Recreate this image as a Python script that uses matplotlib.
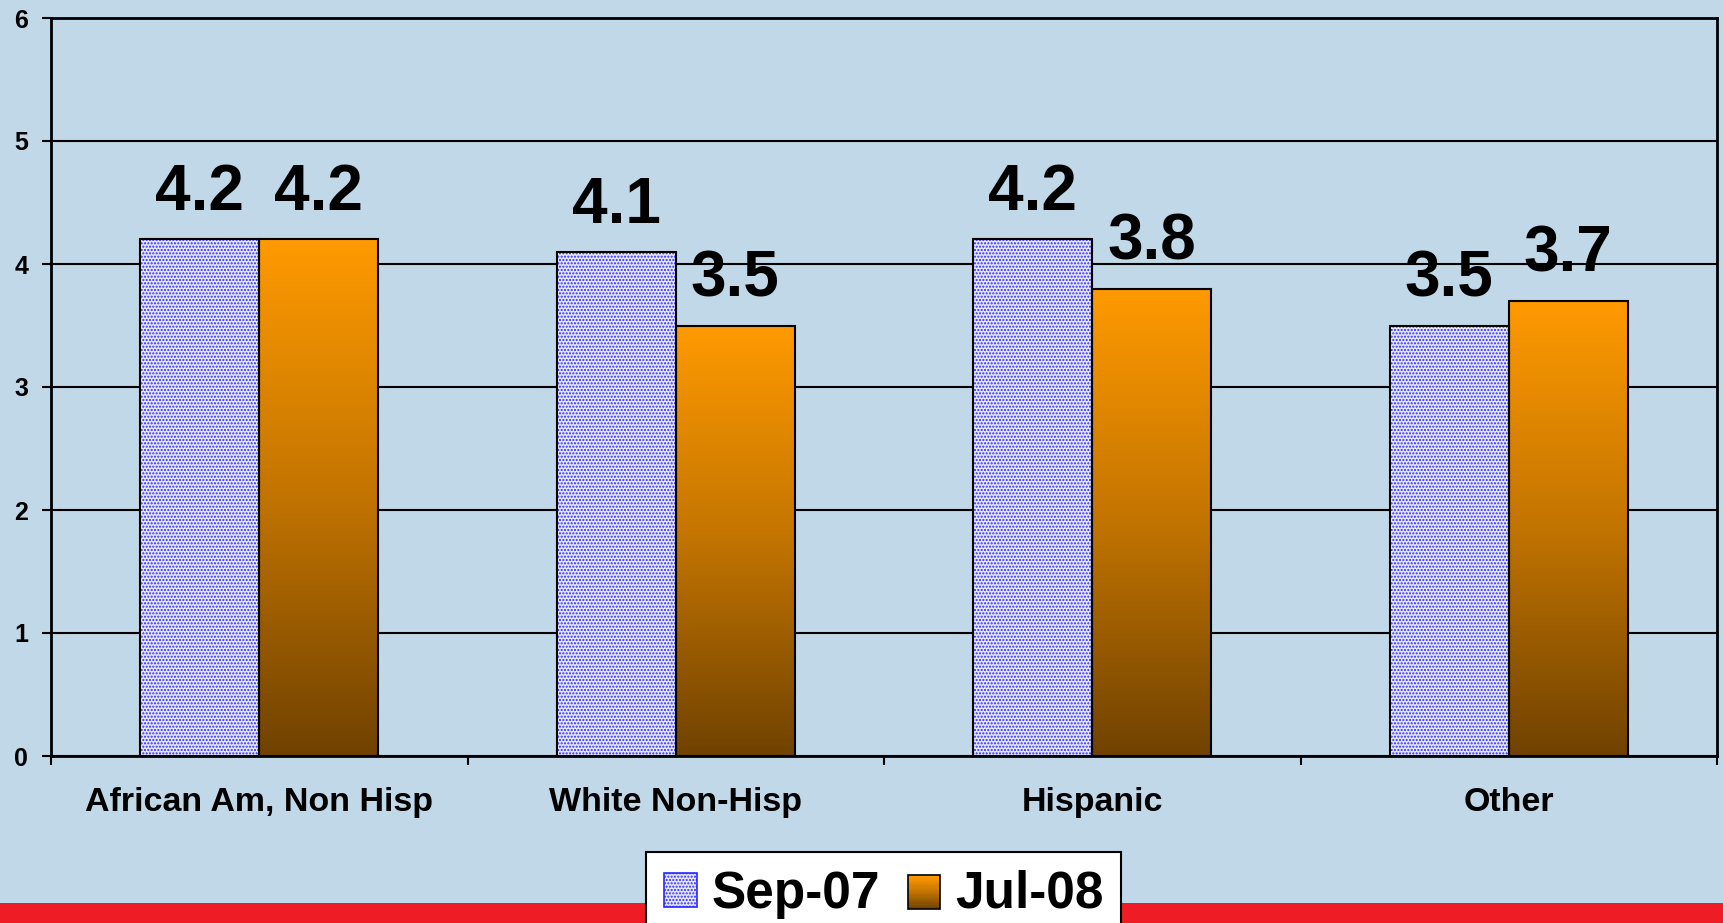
import numpy as np
import matplotlib
matplotlib.use("Agg")
import matplotlib.pyplot as plt
from matplotlib.patches import Rectangle
from matplotlib.colors import LinearSegmentedColormap
from matplotlib.legend_handler import HandlerBase

plt.rcParams['font.family'] = ['Liberation Sans', 'DejaVu Sans']
plt.rcParams['font.weight'] = 'bold'
plt.rcParams['hatch.linewidth'] = 1.0

# data
groups = ["African Am, Non Hisp", "White Non-Hisp", "Hispanic", "Other"]
sep07 = [4.2, 4.1, 4.2, 3.5]
jul08 = [4.2, 3.5, 3.8, 3.7]
series = ["Sep-07", "Jul-08"]

bg = '#C0D8E8'
orange_top = '#FF9A00'
brown_bot = '#704200'
grad = LinearSegmentedColormap.from_list('og', [brown_bot, '#C27400', orange_top])

fig = plt.figure(figsize=(17.23, 9.23), dpi=100, facecolor=bg)
ax = fig.add_axes([51/1723, 1-756/923, (1717-51)/1723, (756-18)/923])
ax.set_facecolor(bg)

# red band at the bottom
fig.patches.append(Rectangle((0, 0), 1, 20/923, transform=fig.transFigure,
                             facecolor='#EE1C25', edgecolor='none', zorder=0))

x = np.arange(len(groups))
w = 0.286

# Sep-07: dotted bars
ax.bar(x - w/2, sep07, w, color='#E6E6FF', edgecolor='none', zorder=2)
ax.bar(x - w/2, sep07, w, fill=False, hatch='.....', edgecolor='#2828FF',
       linewidth=0, zorder=3)
ax.bar(x - w/2, sep07, w, fill=False, edgecolor='black', linewidth=1.5, zorder=4)

# Jul-08: gradient bars
g = np.linspace(0, 1, 256).reshape(-1, 1)
for xi, v in zip(x, jul08):
    ax.imshow(g, cmap=grad, origin='lower', aspect='auto',
              extent=[xi, xi + w, 0, v], zorder=2)
ax.bar(x + w/2, jul08, w, fill=False, edgecolor='black', linewidth=1.5, zorder=4)

# value labels
for xi, a, b in zip(x, sep07, jul08):
    ax.annotate(f"{a:.1f}", (xi - w/2, a), xytext=(0, 21), textcoords='offset points',
                ha='center', va='baseline', fontsize=46, fontweight='bold')
    ax.annotate(f"{b:.1f}", (xi + w/2, b), xytext=(0, 21), textcoords='offset points',
                ha='center', va='baseline', fontsize=46, fontweight='bold')

ax.set_xlim(-0.5, len(groups) - 0.5)
ax.set_ylim(0, 6)
ax.set_yticks(range(7))
ax.tick_params(axis='y', labelsize=18, length=6.5, width=1.5, pad=10)
ax.set_xticks(np.arange(-0.5, len(groups), 1.0))
ax.set_xticklabels([])
ax.set_xticks(x, minor=True)
ax.set_xticklabels(groups, minor=True, fontsize=24.5, fontweight='bold')
ax.tick_params(axis='x', which='major', length=6.5, width=1.5)
ax.tick_params(axis='x', which='minor', length=0, pad=22)
ax.yaxis.grid(True, color='black', linewidth=1.5, zorder=1)
ax.set_axisbelow(True)
for s in ax.spines.values():
    s.set_linewidth(2)


class GradHandler(HandlerBase):
    def create_artists(self, legend, orig, xd, yd, width, height, fontsize, trans):
        n = 30
        arts = []
        for i in range(n):
            r = Rectangle((xd, yd + height*i/n), width, height/n + 0.3,
                          facecolor=grad(i/(n-1)), edgecolor='none', transform=trans)
            arts.append(r)
        arts.append(Rectangle((xd, yd), width, height, fill=False,
                              edgecolor='black', linewidth=1.2, transform=trans))
        return arts


h1 = Rectangle((0, 0), 1, 1, facecolor='#E6E6FF', hatch='.....',
               edgecolor='#2828FF', linewidth=1.2)
h2 = Rectangle((0, 0), 1, 1)
leg = fig.legend([h1, h2], series, loc='upper left',
                 bbox_to_anchor=(646/1723, 1-852/923), ncol=2,
                 prop={'size': 37, 'weight': 'bold'}, fancybox=False,
                 framealpha=1, edgecolor='black', handlelength=0.64,
                 handleheight=0.64, handletextpad=0.28, columnspacing=0.54,
                 borderpad=0.35, borderaxespad=0, handler_map={h2: GradHandler()})
leg.get_frame().set_linewidth(1.5)

fig.savefig('out.png', dpi=100, facecolor=bg)
